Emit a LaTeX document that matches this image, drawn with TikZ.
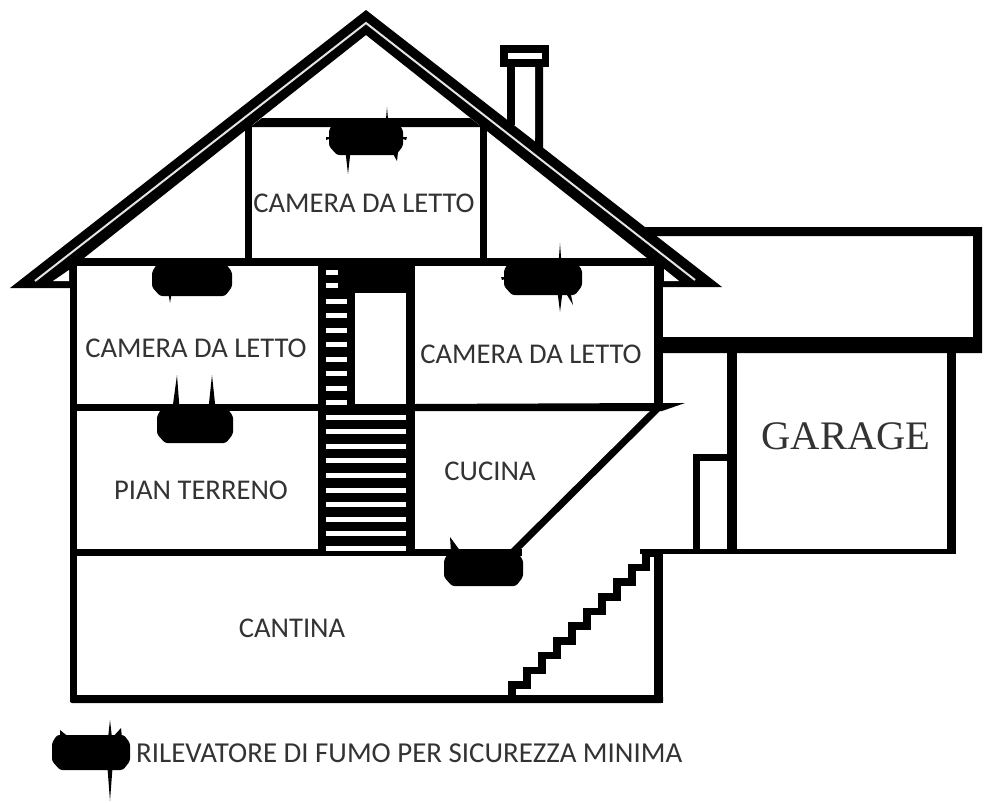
\documentclass[tikz,border=0pt]{standalone}
\usepackage{fontspec}
\setmainfont{Carlito}
\newfontfamily\garagefont{Liberation Serif}
\definecolor{labelgray}{HTML}{333333}
\definecolor{stripegray}{HTML}{E4E4E4}
\tikzset{
  wall/.style={fill=black},
  room/.style={text=labelgray,inner sep=0pt,font=\fontsize{28.6}{32}\selectfont},
  hole/.style={fill=white},
}
% x1 y1 x2 y2: body of a smoke detector
\newcommand{\detbody}[4]{\fill[black,rounded corners=2.5pt] (#1+5,#2) -- (#3-6,#2) -- (#3,#2+8) -- (#3,#4-9) -- (#3-7,#4) -- (#1+8,#4) -- (#1,#4-9) -- (#1,#2+8) -- cycle;}
% x at base, base y, half width, tip x, tip y
\newcommand{\detspike}[5]{\fill[black] (#1-#3,#2) -- (#4,#5) -- (#1+#3,#2) -- cycle;}
\begin{document}
\begin{tikzpicture}[x=1pt,y=-1pt]
\useasboundingbox (0,0) rectangle (989,803);
\fill[white] (0,0) rectangle (989,803);
% garage upper box
\fill[wall] (640,227) -- (982,227) -- (982,353) -- (654,353) -- (654,337) -- (973,337) -- (973,236) -- (650,236) -- cycle;
% chimney
\fill[wall] (507,60) rectangle (515,125);
\fill[wall] (535,60) -- (543,60) -- (543,152) -- (535,145) -- cycle;
\fill[wall] (500,45) rectangle (549,67);
\fill[hole] (508,53) rectangle (542,59);
\fill[hole] (515,67) -- (535,67) -- (535,138) -- (515,122) -- cycle;
% roof band
\fill[wall] (10,288) -- (366,10) -- (722,287) -- (660,287) -- (655,266) -- (647,258) -- (366,35) -- (84,258) -- (72,266) -- (72,288) -- cycle;
\draw[stripegray,line width=2pt] (35,281) -- (366,23) -- (695,280);
\fill[hole] (53,281) -- (69,281) -- (69,270) -- cycle;
\fill[hole] (664,269) -- (664,281) -- (679,281) -- cycle;
% attic
\fill[wall] (262,118) -- (470,118) -- (482,127) -- (250,127) -- cycle;
\fill[wall] (245,122) rectangle (252,262);
\fill[wall] (480,122) rectangle (487,262);
% first floor and outer walls
\fill[wall] (72,258) rectangle (660,266);
\fill[wall] (70,266) rectangle (77,702);
\fill[wall] (654,262) rectangle (663,408);
\fill[wall] (72,404) rectangle (318,411);
\fill[wall] (318,404) rectangle (415,411);
\fill[wall] (415,404) -- (660,403) -- (685,403) -- (662,411) -- (415,411) -- cycle;
\draw[line width=7pt,black] (659,407) -- (513,552);
\fill[wall] (70,549) rectangle (522,556);
\fill[wall] (640,549) rectangle (956,554);
% basement
\fill[wall,rounded corners=2pt] (70,695) rectangle (663,703);
\fill[wall] (654,549) rectangle (663,703);
\draw[black,line width=7.5pt,miter limit=10] (512,697) -- (512,685.0) -- (527,685.0) -- (527,670.3) -- (542,670.3) -- (542,655.6) -- (557,655.6) -- (557,640.9) -- (572,640.9) -- (572,626.2) -- (587,626.2) -- (587,611.5) -- (602,611.5) -- (602,596.8) -- (617,596.8) -- (617,582.1) -- (632,582.1) -- (632,567.4) -- (646,567.4) -- (646,553) -- (658,553);
% stairs
\fill[wall] (318,266) rectangle (326,556);
\fill[wall] (406,266) rectangle (415,556);
\fill[wall] (326,266) rectangle (355,411);
\fill[wall] (326,405) rectangle (406,556);
\fill[wall] (340,266) rectangle (415,293);
\foreach \y in {270,283}{\fill[hole] (326,\y) rectangle (338,\y+5);}
\foreach \y in {299,313,328,342,357,371,386,400}{\fill[hole] (326,\y) rectangle (347,\y+5);}
\foreach \y in {415,429,444,458,473,488,502,517,531,546}{\fill[hole] (326,\y) rectangle (406,\y+4.5);}
% garage walls and door
\fill[wall] (727,350) rectangle (737,553);
\fill[wall] (947,350) rectangle (956,553);
\fill[wall] (693,454) rectangle (700,553);
\fill[wall] (693,454) rectangle (730,461);
% detectors
\detbody{329}{122}{403}{155}
\detspike{387}{125}{1.5}{387}{107}
\detspike{348}{152}{2.5}{348}{174}
\detspike{395}{152}{3}{397}{161}
\detspike{331}{137}{5}{326}{140}
\detspike{402}{137}{5}{406}{140}
\detbody{152}{264}{232}{296}
\detspike{170}{294}{1.5}{170}{303}
\detbody{504}{262}{582}{295}
\detspike{560}{264}{1.5}{560}{243}
\detspike{560}{292}{2.5}{560}{312}
\detspike{567}{290}{3}{573}{305}
\detspike{506}{277}{5}{502}{280}
\detbody{157}{408}{233}{443}
\detspike{176}{408}{3.5}{177}{375}
\detspike{212}{408}{3.5}{212}{375}
\detbody{444}{552}{523}{586}
\detspike{456}{552}{5}{450}{537}
\detbody{52}{735}{130}{770}
\detspike{110}{738}{2}{110}{720}
\detspike{110}{768}{2.5}{110}{801}
\detspike{65}{738}{5}{60}{730}
\detspike{117}{738}{5}{121}{728}
% labels
\node[room] (bedroomtop) at (364,203) {CAMERA DA LETTO};
\node[room] (bedroomleft) at (196,348) {CAMERA DA LETTO};
\node[room] (bedroomright) at (531,354) {CAMERA DA LETTO};
\node[room] (groundfloor) at (201,490) {PIAN TERRENO};
\node[room] (kitchen) at (490,471) {CUCINA};
\node[room] (cellar) at (292,628) {CANTINA};
\node[text=labelgray,inner sep=0pt,font=\garagefont\fontsize{40.5}{44}\selectfont] (garage) at (846,436) {GARAGE};
\node[room,anchor=west,font=\fontsize{28.9}{32}\selectfont] (legend) at (136,753) {RILEVATORE DI FUMO PER SICUREZZA MINIMA};
\end{tikzpicture}
\end{document}
